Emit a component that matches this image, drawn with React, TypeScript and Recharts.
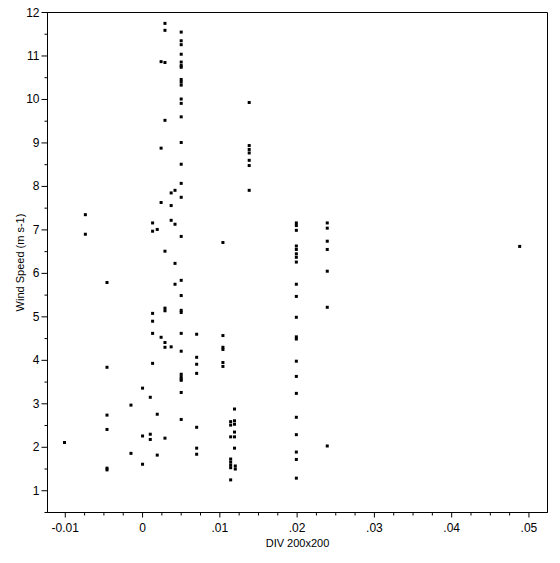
import { ScatterChart, Scatter, XAxis, YAxis, ReferenceArea } from 'recharts';

// DIV 200x200 value of each vertical column of points
const columnDiv = [
  -0.0101, -0.0074, -0.0046, -0.0015, 0, 0.001, 0.0013, 0.0019, 0.0024, 0.0029, 0.0037,
  0.0042, 0.005, 0.007, 0.0104, 0.0114, 0.0119, 0.012, 0.0138, 0.0199, 0.0239, 0.0488,
];

// wind speed (m s-1) readings for each column above
const columnSpeeds = [
  [2.11],
  [7.35, 6.9],
  [5.79, 3.84, 2.74, 2.41, 1.52, 1.48],
  [2.97, 1.86],
  [3.36, 2.26, 1.61],
  [3.15, 2.3, 2.18],
  [7.16, 6.97, 5.08, 4.9, 4.62, 3.93],
  [7.01, 2.76, 1.82],
  [10.87, 8.88, 7.63, 4.53],
  [11.75, 11.59, 10.85, 9.52, 6.51, 5.2, 5.14, 4.41, 4.3, 2.21],
  [7.85, 7.56, 7.22, 4.31],
  [7.91, 7.13, 6.23, 5.75],
  [
    11.55, 11.35, 11.26, 11.04, 10.86, 10.78, 10.74, 10.46, 10.4, 10.33, 10.01, 9.91, 9.6,
    9.01, 8.51, 8.07, 7.75, 6.85, 5.84, 5.49, 5.15, 5.1, 4.62, 4.21, 3.68, 3.62, 3.57, 3.54,
    3.26, 2.64,
  ],
  [4.6, 4.07, 3.91, 3.7, 2.46, 1.98, 1.84],
  [6.71, 4.57, 4.3, 4.25, 3.95, 3.86],
  [2.59, 2.51, 2.24, 1.73, 1.66, 1.59, 1.53, 1.25],
  [2.88, 2.61, 2.53, 2.35, 2.24, 1.98],
  [1.57, 1.5],
  [9.93, 8.94, 8.85, 8.77, 8.6, 8.48, 7.91],
  [
    7.16, 7.1, 6.99, 6.63, 6.55, 6.45, 6.37, 6.26, 5.75, 5.47, 4.99, 4.54, 4.49, 3.98, 3.63,
    3.24, 2.69, 2.29, 1.89, 1.72, 1.29,
  ],
  [7.16, 7.04, 6.74, 6.55, 6.05, 5.22, 2.03],
  [6.62],
];

const xMajorTicks = [-0.01, 0, 0.01, 0.02, 0.03, 0.04, 0.05];
const xTickLabels = ['-0.01', '0', '.01', '.02', '.03', '.04', '.05'];
const yMajorTicks = [1, 2, 3, 4, 5, 6, 7, 8, 9, 10, 11, 12];

const xDomain = [-0.0123, 0.0524];
const yDomain = [0.5, 12];

const points = columnDiv.flatMap((x, i) => columnSpeeds[i].map((y) => ({ x, y })));

// minor ticks every quarter step between the labelled ones
const xTicks: number[] = [];
for (let i = 0; i <= 24; i++) xTicks.push(Math.round((-0.01 + i * 0.0025) * 1e6) / 1e6);
const yTicks: number[] = [];
for (let i = 1; i <= 24; i++) yTicks.push(i * 0.5);

const font = 'Arial, "Liberation Sans", sans-serif';

const XTick = ({ x, y, payload }: any) => {
  const i = xMajorTicks.findIndex((m) => Math.abs(m - payload.value) < 1e-9);
  return (
    <g>
      <line x1={x} x2={x} y1={y} y2={y + (i >= 0 ? 5 : 3)} stroke="#000" />
      {i >= 0 && (
        <text x={x} y={y + 19} textAnchor="middle" fontSize={12} fill="#000" fontFamily={font}>
          {xTickLabels[i]}
        </text>
      )}
    </g>
  );
};

const YTick = ({ x, y, payload }: any) => {
  const major = yMajorTicks.includes(payload.value);
  return (
    <g>
      <line x1={x} x2={x - (major ? 6 : 3)} y1={y} y2={y} stroke="#000" />
      {major && (
        <text x={x - 8} y={y + 4} textAnchor="end" fontSize={12} fill="#000" fontFamily={font}>
          {payload.value}
        </text>
      )}
    </g>
  );
};

const Square = (p: any) => (
  <rect x={p.cx - 1.5} y={p.cy - 1.5} width={3} height={3} fill="#000" />
);

export default function App() {
  // pulled up a little so the top "12" label has room inside the svg
  return (
    <div style={{ width: 552, height: 559, marginTop: -4, fontFamily: font }}>
      <ScatterChart
        width={552}
        height={559}
        margin={{ top: 8.5, right: 12.5, bottom: 0, left: 0 }}
      >
        <XAxis
          type="number"
          dataKey="x"
          domain={xDomain}
          allowDataOverflow
          ticks={xTicks}
          interval={0}
          tickSize={0}
          tickMargin={0}
          tick={XTick}
          height={50.5}
          axisLine={{ stroke: '#000' }}
          label={{
            content: ({ viewBox }: any) => (
              <text
                x={viewBox.x + viewBox.width / 2}
                y={viewBox.y + 34.5}
                textAnchor="middle"
                fontSize={11}
                fill="#000"
                fontFamily={font}
              >
                DIV 200x200
              </text>
            ),
          }}
        />
        <YAxis
          type="number"
          dataKey="y"
          domain={yDomain}
          allowDataOverflow
          ticks={yTicks}
          interval={0}
          tickSize={0}
          tickMargin={0}
          tick={YTick}
          width={39.5}
          axisLine={{ stroke: '#000' }}
          label={{
            content: ({ viewBox }: any) => (
              <text
                transform={`translate(${viewBox.x + 16.3}, ${viewBox.y + viewBox.height / 2}) rotate(-90)`}
                textAnchor="middle"
                fontSize={11}
                fill="#000"
                fontFamily={font}
              >
                Wind Speed (m s-1)
              </text>
            ),
          }}
        />
        <ReferenceArea
          x1={xDomain[0]}
          x2={xDomain[1]}
          y1={yDomain[0]}
          y2={yDomain[1]}
          fill="none"
          stroke="#000"
          strokeWidth={1}
        />
        <Scatter data={points} shape={Square} isAnimationActive={false} />
      </ScatterChart>
    </div>
  );
}
